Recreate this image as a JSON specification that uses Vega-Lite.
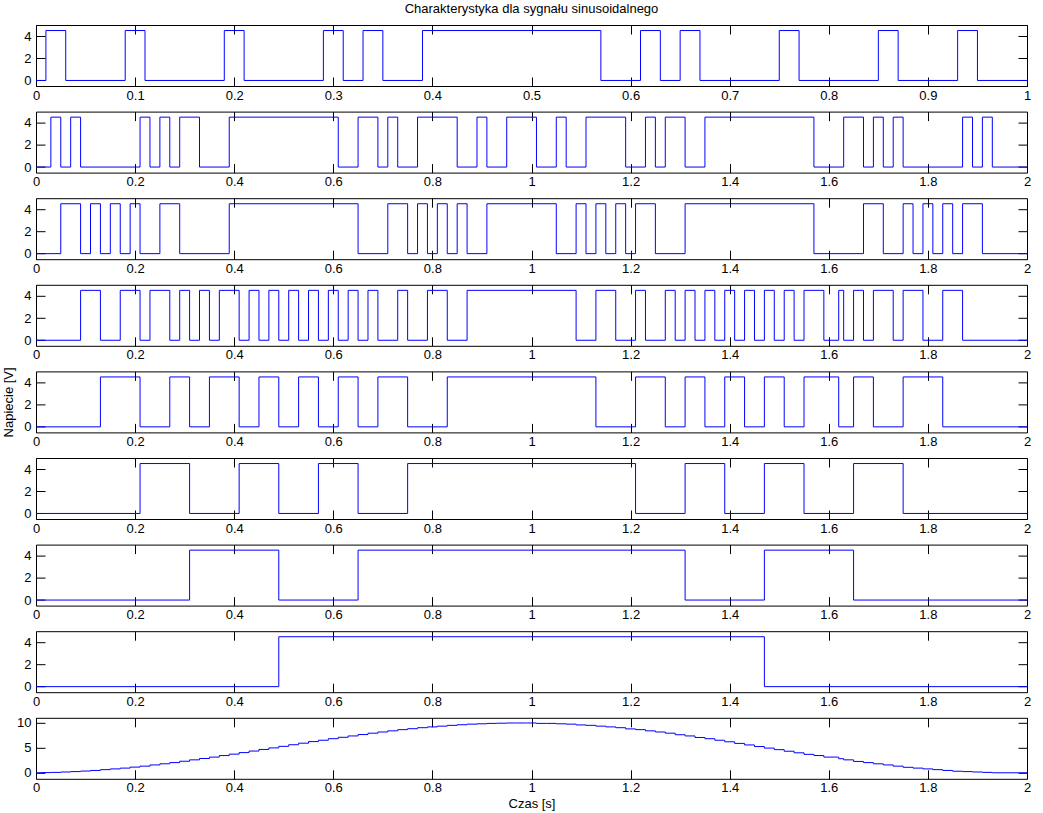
{
  "$schema": "https://vega.github.io/schema/vega-lite/v6.json",
  "autosize": {"type": "pad"},
  "padding": {"left": 2, "top": 2, "right": 12, "bottom": 2},
  "background": "white",
  "spacing": 25.6,
  "bounds": "flush",
  "config": {
    "font": "Liberation Sans",
    "view": {"stroke": "black", "strokeWidth": 1},
    "axis": {"domain": false, "grid": false, "tickColor": "black", "tickWidth": 1, "tickSize": -9, "labelFont": "Liberation Sans", "labelFontSize": 13, "labelColor": "black", "labelPadding": 12, "labelFlush": false, "labelOverlap": false, "titleFont": "Liberation Sans", "titleFontSize": 13, "titleFontWeight": "normal", "titleColor": "black"},
    "axisLeft": {"labelPadding": 14},
    "title": {"font": "Liberation Sans", "fontSize": 13, "fontWeight": "normal", "color": "black", "offset": 9}
  },
  "datasets": {
    "b0": [{"t":0,"v":0},{"t":0.01,"v":4.5},{"t":0.03,"v":0},{"t":0.09,"v":4.5},{"t":0.11,"v":0},{"t":0.19,"v":4.5},{"t":0.21,"v":0},{"t":0.29,"v":4.5},{"t":0.31,"v":0},{"t":0.33,"v":4.5},{"t":0.35,"v":0},{"t":0.39,"v":4.5},{"t":0.57,"v":0},{"t":0.61,"v":4.5},{"t":0.63,"v":0},{"t":0.65,"v":4.5},{"t":0.67,"v":0},{"t":0.75,"v":4.5},{"t":0.77,"v":0},{"t":0.85,"v":4.5},{"t":0.87,"v":0},{"t":0.93,"v":4.5},{"t":0.95,"v":0},{"t":1,"v":0}],
    "b1": [{"t":0,"v":0},{"t":0.03,"v":4.5},{"t":0.05,"v":0},{"t":0.07,"v":4.5},{"t":0.09,"v":0},{"t":0.21,"v":4.5},{"t":0.23,"v":0},{"t":0.25,"v":4.5},{"t":0.27,"v":0},{"t":0.29,"v":4.5},{"t":0.33,"v":0},{"t":0.39,"v":4.5},{"t":0.61,"v":0},{"t":0.65,"v":4.5},{"t":0.69,"v":0},{"t":0.71,"v":4.5},{"t":0.73,"v":0},{"t":0.77,"v":4.5},{"t":0.85,"v":0},{"t":0.89,"v":4.5},{"t":0.91,"v":0},{"t":0.95,"v":4.5},{"t":1.01,"v":0},{"t":1.05,"v":4.5},{"t":1.07,"v":0},{"t":1.11,"v":4.5},{"t":1.19,"v":0},{"t":1.23,"v":4.5},{"t":1.25,"v":0},{"t":1.27,"v":4.5},{"t":1.31,"v":0},{"t":1.35,"v":4.5},{"t":1.57,"v":0},{"t":1.63,"v":4.5},{"t":1.67,"v":0},{"t":1.69,"v":4.5},{"t":1.71,"v":0},{"t":1.73,"v":4.5},{"t":1.75,"v":0},{"t":1.87,"v":4.5},{"t":1.89,"v":0},{"t":1.91,"v":4.5},{"t":1.93,"v":0},{"t":2,"v":0}],
    "b2": [{"t":0,"v":0},{"t":0.05,"v":4.5},{"t":0.09,"v":0},{"t":0.11,"v":4.5},{"t":0.13,"v":0},{"t":0.15,"v":4.5},{"t":0.17,"v":0},{"t":0.19,"v":4.5},{"t":0.21,"v":0},{"t":0.25,"v":4.5},{"t":0.29,"v":0},{"t":0.39,"v":4.5},{"t":0.65,"v":0},{"t":0.71,"v":4.5},{"t":0.75,"v":0},{"t":0.77,"v":4.5},{"t":0.79,"v":0},{"t":0.81,"v":4.5},{"t":0.83,"v":0},{"t":0.85,"v":4.5},{"t":0.87,"v":0},{"t":0.91,"v":4.5},{"t":1.05,"v":0},{"t":1.09,"v":4.5},{"t":1.11,"v":0},{"t":1.13,"v":4.5},{"t":1.15,"v":0},{"t":1.17,"v":4.5},{"t":1.19,"v":0},{"t":1.21,"v":4.5},{"t":1.25,"v":0},{"t":1.31,"v":4.5},{"t":1.57,"v":0},{"t":1.67,"v":4.5},{"t":1.71,"v":0},{"t":1.75,"v":4.5},{"t":1.77,"v":0},{"t":1.79,"v":4.5},{"t":1.81,"v":0},{"t":1.83,"v":4.5},{"t":1.85,"v":0},{"t":1.87,"v":4.5},{"t":1.91,"v":0},{"t":2,"v":0}],
    "b3": [{"t":0,"v":0},{"t":0.09,"v":4.5},{"t":0.13,"v":0},{"t":0.17,"v":4.5},{"t":0.21,"v":0},{"t":0.23,"v":4.5},{"t":0.27,"v":0},{"t":0.29,"v":4.5},{"t":0.31,"v":0},{"t":0.33,"v":4.5},{"t":0.35,"v":0},{"t":0.37,"v":4.5},{"t":0.41,"v":0},{"t":0.43,"v":4.5},{"t":0.45,"v":0},{"t":0.47,"v":4.5},{"t":0.49,"v":0},{"t":0.51,"v":4.5},{"t":0.53,"v":0},{"t":0.55,"v":4.5},{"t":0.57,"v":0},{"t":0.59,"v":4.5},{"t":0.61,"v":0},{"t":0.63,"v":4.5},{"t":0.65,"v":0},{"t":0.67,"v":4.5},{"t":0.69,"v":0},{"t":0.73,"v":4.5},{"t":0.75,"v":0},{"t":0.79,"v":4.5},{"t":0.83,"v":0},{"t":0.87,"v":4.5},{"t":1.09,"v":0},{"t":1.13,"v":4.5},{"t":1.17,"v":0},{"t":1.21,"v":4.5},{"t":1.23,"v":0},{"t":1.27,"v":4.5},{"t":1.29,"v":0},{"t":1.31,"v":4.5},{"t":1.33,"v":0},{"t":1.35,"v":4.5},{"t":1.37,"v":0},{"t":1.39,"v":4.5},{"t":1.41,"v":0},{"t":1.43,"v":4.5},{"t":1.45,"v":0},{"t":1.47,"v":4.5},{"t":1.49,"v":0},{"t":1.51,"v":4.5},{"t":1.53,"v":0},{"t":1.55,"v":4.5},{"t":1.59,"v":0},{"t":1.62,"v":4.5},{"t":1.63,"v":0},{"t":1.65,"v":4.5},{"t":1.67,"v":0},{"t":1.69,"v":4.5},{"t":1.73,"v":0},{"t":1.75,"v":4.5},{"t":1.79,"v":0},{"t":1.83,"v":4.5},{"t":1.87,"v":0},{"t":2,"v":0}],
    "b4": [{"t":0,"v":0},{"t":0.13,"v":4.5},{"t":0.21,"v":0},{"t":0.27,"v":4.5},{"t":0.31,"v":0},{"t":0.35,"v":4.5},{"t":0.41,"v":0},{"t":0.45,"v":4.5},{"t":0.49,"v":0},{"t":0.53,"v":4.5},{"t":0.57,"v":0},{"t":0.61,"v":4.5},{"t":0.65,"v":0},{"t":0.69,"v":4.5},{"t":0.75,"v":0},{"t":0.83,"v":4.5},{"t":1.13,"v":0},{"t":1.21,"v":4.5},{"t":1.27,"v":0},{"t":1.31,"v":4.5},{"t":1.35,"v":0},{"t":1.39,"v":4.5},{"t":1.43,"v":0},{"t":1.47,"v":4.5},{"t":1.51,"v":0},{"t":1.55,"v":4.5},{"t":1.62,"v":0},{"t":1.65,"v":4.5},{"t":1.69,"v":0},{"t":1.75,"v":4.5},{"t":1.83,"v":0},{"t":2,"v":0}],
    "b5": [{"t":0,"v":0},{"t":0.21,"v":4.5},{"t":0.31,"v":0},{"t":0.41,"v":4.5},{"t":0.49,"v":0},{"t":0.57,"v":4.5},{"t":0.65,"v":0},{"t":0.75,"v":4.5},{"t":1.21,"v":0},{"t":1.31,"v":4.5},{"t":1.39,"v":0},{"t":1.47,"v":4.5},{"t":1.55,"v":0},{"t":1.65,"v":4.5},{"t":1.75,"v":0},{"t":2,"v":0}],
    "b6": [{"t":0,"v":0},{"t":0.31,"v":4.5},{"t":0.49,"v":0},{"t":0.65,"v":4.5},{"t":1.31,"v":0},{"t":1.47,"v":4.5},{"t":1.65,"v":0},{"t":2,"v":0}],
    "b7": [{"t":0,"v":0},{"t":0.49,"v":4.5},{"t":1.47,"v":0},{"t":2,"v":0}],
    "sig": [{"t":0,"v":0},{"t":0.01,"v":0.04},{"t":0.03,"v":0.08},{"t":0.05,"v":0.16},{"t":0.07,"v":0.24},{"t":0.09,"v":0.35},{"t":0.11,"v":0.47},{"t":0.13,"v":0.63},{"t":0.15,"v":0.78},{"t":0.17,"v":0.94},{"t":0.19,"v":1.14},{"t":0.21,"v":1.33},{"t":0.23,"v":1.57},{"t":0.25,"v":1.8},{"t":0.27,"v":2.04},{"t":0.29,"v":2.31},{"t":0.31,"v":2.59},{"t":0.33,"v":2.86},{"t":0.35,"v":3.14},{"t":0.37,"v":3.45},{"t":0.39,"v":3.73},{"t":0.41,"v":4.04},{"t":0.43,"v":4.35},{"t":0.45,"v":4.67},{"t":0.47,"v":4.98},{"t":0.49,"v":5.29},{"t":0.51,"v":5.61},{"t":0.53,"v":5.92},{"t":0.55,"v":6.24},{"t":0.57,"v":6.51},{"t":0.59,"v":6.82},{"t":0.61,"v":7.1},{"t":0.63,"v":7.37},{"t":0.65,"v":7.65},{"t":0.67,"v":7.92},{"t":0.69,"v":8.16},{"t":0.71,"v":8.39},{"t":0.73,"v":8.63},{"t":0.75,"v":8.82},{"t":0.77,"v":9.02},{"t":0.79,"v":9.18},{"t":0.81,"v":9.33},{"t":0.83,"v":9.49},{"t":0.85,"v":9.61},{"t":0.87,"v":9.73},{"t":0.89,"v":9.8},{"t":0.91,"v":9.88},{"t":0.93,"v":9.92},{"t":0.95,"v":9.96},{"t":0.97,"v":9.96},{"t":0.99,"v":9.96},{"t":1.01,"v":9.88},{"t":1.03,"v":9.88},{"t":1.05,"v":9.8},{"t":1.07,"v":9.73},{"t":1.09,"v":9.57},{"t":1.11,"v":9.49},{"t":1.13,"v":9.33},{"t":1.15,"v":9.18},{"t":1.17,"v":9.02},{"t":1.19,"v":8.78},{"t":1.21,"v":8.63},{"t":1.23,"v":8.39},{"t":1.25,"v":8.16},{"t":1.27,"v":7.92},{"t":1.29,"v":7.61},{"t":1.31,"v":7.37},{"t":1.33,"v":7.06},{"t":1.35,"v":6.82},{"t":1.37,"v":6.51},{"t":1.39,"v":6.2},{"t":1.41,"v":5.88},{"t":1.43,"v":5.57},{"t":1.45,"v":5.25},{"t":1.47,"v":4.94},{"t":1.49,"v":4.63},{"t":1.51,"v":4.31},{"t":1.53,"v":4.0},{"t":1.55,"v":3.69},{"t":1.57,"v":3.45},{"t":1.59,"v":3.14},{"t":1.62,"v":2.82},{"t":1.63,"v":2.59},{"t":1.65,"v":2.27},{"t":1.67,"v":2.04},{"t":1.69,"v":1.8},{"t":1.71,"v":1.57},{"t":1.73,"v":1.33},{"t":1.75,"v":1.1},{"t":1.77,"v":0.94},{"t":1.79,"v":0.78},{"t":1.81,"v":0.63},{"t":1.83,"v":0.47},{"t":1.85,"v":0.31},{"t":1.87,"v":0.24},{"t":1.89,"v":0.16},{"t":1.91,"v":0.08},{"t":1.93,"v":0},{"t":2,"v":0}]
  },
  "vconcat": [
    {
      "width": 991, "height": 61,
      "title": {"text": "Charakterystyka dla sygnału sinusoidalnego", "anchor": "middle", "frame": "group"},
      "data": {"name": "b0"},
      "layer": [
        {"mark": {"type": "line", "interpolate": "step-after", "color": "#0000ff", "strokeWidth": 1},
         "encoding": {
           "x": {"field": "t", "type": "quantitative", "scale": {"domain": [0, 1], "nice": false, "zero": false}, "axis": {"orient": "bottom", "title": null, "values": [0,0.1,0.2,0.3,0.4,0.5,0.6,0.7,0.8,0.9,1], "format": "~r"}},
           "y": {"field": "v", "type": "quantitative", "scale": {"domain": [-0.5, 5], "nice": false, "zero": false}, "axis": {"orient": "left", "title": null, "values": [0,2,4], "format": "~r"}}}},
        {"mark": {"type": "line", "strokeOpacity": 0},
         "encoding": {
           "x": {"field": "t", "type": "quantitative", "axis": {"orient": "top", "title": null, "labels": false, "values": [0,0.1,0.2,0.3,0.4,0.5,0.6,0.7,0.8,0.9,1]}},
           "y": {"field": "v", "type": "quantitative", "axis": {"orient": "right", "title": null, "labels": false, "values": [0,2,4]}}}}
      ],
      "resolve": {"axis": {"x": "independent", "y": "independent"}}
    },
    {
      "width": 991, "height": 61,
      "data": {"name": "b1"},
      "layer": [
        {"mark": {"type": "line", "interpolate": "step-after", "color": "#0000ff", "strokeWidth": 1},
         "encoding": {
           "x": {"field": "t", "type": "quantitative", "scale": {"domain": [0, 2], "nice": false, "zero": false}, "axis": {"orient": "bottom", "title": null, "values": [0,0.2,0.4,0.6,0.8,1,1.2,1.4,1.6,1.8,2], "format": "~r"}},
           "y": {"field": "v", "type": "quantitative", "scale": {"domain": [-0.5, 5], "nice": false, "zero": false}, "axis": {"orient": "left", "title": null, "values": [0,2,4], "format": "~r"}}}},
        {"mark": {"type": "line", "strokeOpacity": 0},
         "encoding": {
           "x": {"field": "t", "type": "quantitative", "axis": {"orient": "top", "title": null, "labels": false, "values": [0,0.2,0.4,0.6,0.8,1,1.2,1.4,1.6,1.8,2]}},
           "y": {"field": "v", "type": "quantitative", "axis": {"orient": "right", "title": null, "labels": false, "values": [0,2,4]}}}}
      ],
      "resolve": {"axis": {"x": "independent", "y": "independent"}}
    },
    {
      "width": 991, "height": 61,
      "data": {"name": "b2"},
      "layer": [
        {"mark": {"type": "line", "interpolate": "step-after", "color": "#0000ff", "strokeWidth": 1},
         "encoding": {
           "x": {"field": "t", "type": "quantitative", "scale": {"domain": [0, 2], "nice": false, "zero": false}, "axis": {"orient": "bottom", "title": null, "values": [0,0.2,0.4,0.6,0.8,1,1.2,1.4,1.6,1.8,2], "format": "~r"}},
           "y": {"field": "v", "type": "quantitative", "scale": {"domain": [-0.5, 5], "nice": false, "zero": false}, "axis": {"orient": "left", "title": null, "values": [0,2,4], "format": "~r"}}}},
        {"mark": {"type": "line", "strokeOpacity": 0},
         "encoding": {
           "x": {"field": "t", "type": "quantitative", "axis": {"orient": "top", "title": null, "labels": false, "values": [0,0.2,0.4,0.6,0.8,1,1.2,1.4,1.6,1.8,2]}},
           "y": {"field": "v", "type": "quantitative", "axis": {"orient": "right", "title": null, "labels": false, "values": [0,2,4]}}}}
      ],
      "resolve": {"axis": {"x": "independent", "y": "independent"}}
    },
    {
      "width": 991, "height": 61,
      "data": {"name": "b3"},
      "layer": [
        {"mark": {"type": "line", "interpolate": "step-after", "color": "#0000ff", "strokeWidth": 1},
         "encoding": {
           "x": {"field": "t", "type": "quantitative", "scale": {"domain": [0, 2], "nice": false, "zero": false}, "axis": {"orient": "bottom", "title": null, "values": [0,0.2,0.4,0.6,0.8,1,1.2,1.4,1.6,1.8,2], "format": "~r"}},
           "y": {"field": "v", "type": "quantitative", "scale": {"domain": [-0.5, 5], "nice": false, "zero": false}, "axis": {"orient": "left", "title": null, "values": [0,2,4], "format": "~r"}}}},
        {"mark": {"type": "line", "strokeOpacity": 0},
         "encoding": {
           "x": {"field": "t", "type": "quantitative", "axis": {"orient": "top", "title": null, "labels": false, "values": [0,0.2,0.4,0.6,0.8,1,1.2,1.4,1.6,1.8,2]}},
           "y": {"field": "v", "type": "quantitative", "axis": {"orient": "right", "title": null, "labels": false, "values": [0,2,4]}}}}
      ],
      "resolve": {"axis": {"x": "independent", "y": "independent"}}
    },
    {
      "width": 991, "height": 61,
      "data": {"name": "b4"},
      "layer": [
        {"mark": {"type": "line", "interpolate": "step-after", "color": "#0000ff", "strokeWidth": 1},
         "encoding": {
           "x": {"field": "t", "type": "quantitative", "scale": {"domain": [0, 2], "nice": false, "zero": false}, "axis": {"orient": "bottom", "title": null, "values": [0,0.2,0.4,0.6,0.8,1,1.2,1.4,1.6,1.8,2], "format": "~r"}},
           "y": {"field": "v", "type": "quantitative", "scale": {"domain": [-0.5, 5], "nice": false, "zero": false}, "axis": {"orient": "left", "title": "Napiecie [V]", "titlePadding": 8, "values": [0,2,4], "format": "~r"}}}},
        {"mark": {"type": "line", "strokeOpacity": 0},
         "encoding": {
           "x": {"field": "t", "type": "quantitative", "axis": {"orient": "top", "title": null, "labels": false, "values": [0,0.2,0.4,0.6,0.8,1,1.2,1.4,1.6,1.8,2]}},
           "y": {"field": "v", "type": "quantitative", "axis": {"orient": "right", "title": null, "labels": false, "values": [0,2,4]}}}}
      ],
      "resolve": {"axis": {"x": "independent", "y": "independent"}}
    },
    {
      "width": 991, "height": 61,
      "data": {"name": "b5"},
      "layer": [
        {"mark": {"type": "line", "interpolate": "step-after", "color": "#0000ff", "strokeWidth": 1},
         "encoding": {
           "x": {"field": "t", "type": "quantitative", "scale": {"domain": [0, 2], "nice": false, "zero": false}, "axis": {"orient": "bottom", "title": null, "values": [0,0.2,0.4,0.6,0.8,1,1.2,1.4,1.6,1.8,2], "format": "~r"}},
           "y": {"field": "v", "type": "quantitative", "scale": {"domain": [-0.5, 5], "nice": false, "zero": false}, "axis": {"orient": "left", "title": null, "values": [0,2,4], "format": "~r"}}}},
        {"mark": {"type": "line", "strokeOpacity": 0},
         "encoding": {
           "x": {"field": "t", "type": "quantitative", "axis": {"orient": "top", "title": null, "labels": false, "values": [0,0.2,0.4,0.6,0.8,1,1.2,1.4,1.6,1.8,2]}},
           "y": {"field": "v", "type": "quantitative", "axis": {"orient": "right", "title": null, "labels": false, "values": [0,2,4]}}}}
      ],
      "resolve": {"axis": {"x": "independent", "y": "independent"}}
    },
    {
      "width": 991, "height": 61,
      "data": {"name": "b6"},
      "layer": [
        {"mark": {"type": "line", "interpolate": "step-after", "color": "#0000ff", "strokeWidth": 1},
         "encoding": {
           "x": {"field": "t", "type": "quantitative", "scale": {"domain": [0, 2], "nice": false, "zero": false}, "axis": {"orient": "bottom", "title": null, "values": [0,0.2,0.4,0.6,0.8,1,1.2,1.4,1.6,1.8,2], "format": "~r"}},
           "y": {"field": "v", "type": "quantitative", "scale": {"domain": [-0.5, 5], "nice": false, "zero": false}, "axis": {"orient": "left", "title": null, "values": [0,2,4], "format": "~r"}}}},
        {"mark": {"type": "line", "strokeOpacity": 0},
         "encoding": {
           "x": {"field": "t", "type": "quantitative", "axis": {"orient": "top", "title": null, "labels": false, "values": [0,0.2,0.4,0.6,0.8,1,1.2,1.4,1.6,1.8,2]}},
           "y": {"field": "v", "type": "quantitative", "axis": {"orient": "right", "title": null, "labels": false, "values": [0,2,4]}}}}
      ],
      "resolve": {"axis": {"x": "independent", "y": "independent"}}
    },
    {
      "width": 991, "height": 61,
      "data": {"name": "b7"},
      "layer": [
        {"mark": {"type": "line", "interpolate": "step-after", "color": "#0000ff", "strokeWidth": 1},
         "encoding": {
           "x": {"field": "t", "type": "quantitative", "scale": {"domain": [0, 2], "nice": false, "zero": false}, "axis": {"orient": "bottom", "title": null, "values": [0,0.2,0.4,0.6,0.8,1,1.2,1.4,1.6,1.8,2], "format": "~r"}},
           "y": {"field": "v", "type": "quantitative", "scale": {"domain": [-0.5, 5], "nice": false, "zero": false}, "axis": {"orient": "left", "title": null, "values": [0,2,4], "format": "~r"}}}},
        {"mark": {"type": "line", "strokeOpacity": 0},
         "encoding": {
           "x": {"field": "t", "type": "quantitative", "axis": {"orient": "top", "title": null, "labels": false, "values": [0,0.2,0.4,0.6,0.8,1,1.2,1.4,1.6,1.8,2]}},
           "y": {"field": "v", "type": "quantitative", "axis": {"orient": "right", "title": null, "labels": false, "values": [0,2,4]}}}}
      ],
      "resolve": {"axis": {"x": "independent", "y": "independent"}}
    },
    {
      "width": 991, "height": 61,
      "data": {"name": "sig"},
      "layer": [
        {"mark": {"type": "line", "interpolate": "step-after", "color": "#0000ff", "strokeWidth": 1},
         "encoding": {
           "x": {"field": "t", "type": "quantitative", "scale": {"domain": [0, 2], "nice": false, "zero": false}, "axis": {"orient": "bottom", "title": "Czas [s]", "titlePadding": 3, "values": [0,0.2,0.4,0.6,0.8,1,1.2,1.4,1.6,1.8,2], "format": "~r"}},
           "y": {"field": "v", "type": "quantitative", "scale": {"domain": [-1.2, 11], "nice": false, "zero": false}, "axis": {"orient": "left", "title": null, "values": [0,5,10], "format": "~r"}}}},
        {"mark": {"type": "line", "strokeOpacity": 0},
         "encoding": {
           "x": {"field": "t", "type": "quantitative", "axis": {"orient": "top", "title": null, "labels": false, "values": [0,0.2,0.4,0.6,0.8,1,1.2,1.4,1.6,1.8,2]}},
           "y": {"field": "v", "type": "quantitative", "axis": {"orient": "right", "title": null, "labels": false, "values": [0,5,10]}}}}
      ],
      "resolve": {"axis": {"x": "independent", "y": "independent"}}
    }
  ]
}
